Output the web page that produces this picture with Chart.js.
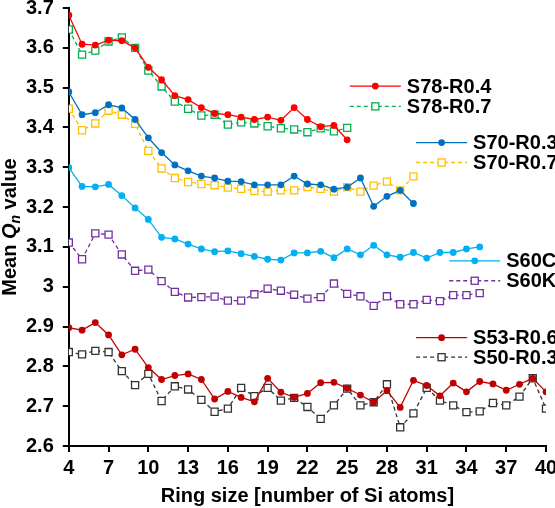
<!DOCTYPE html>
<html>
<head>
<meta charset="utf-8">
<style>
  html, body { margin: 0; padding: 0; background: #fff; }
  #wrap { width: 555px; height: 508px; }
</style>
<script src="https://cdn.jsdelivr.net/npm/chart.js"></script>
</head>
<body>
<div id="wrap"><canvas id="chart" width="555" height="508"></canvas></div>
<script>
  // ring sizes (number of Si atoms)
  const ringSizes = [4,5,6,7,8,9,10,11,12,13,14,15,16,17,18,19,20,21,22,23,24,25,26,27,28,29,30,31,32,33,34,35,36,37,38,39,40];

  const seriesNames = ['S78-R0.4','S78-R0.7','S70-R0.3','S70-R0.7','S60C','S60K','S53-R0.6','S50-R0.3'];

  // mean Qn per ring size, starting at ring size 4
  const s78r04 = [3.682,3.609,3.607,3.619,3.618,3.600,3.551,3.520,3.480,3.470,3.450,3.435,3.432,3.426,3.420,3.426,3.418,3.450,3.420,3.402,3.405,3.369];
  const s78r07 = [3.646,3.583,3.593,3.616,3.626,3.600,3.543,3.503,3.465,3.447,3.430,3.432,3.407,3.413,3.410,3.403,3.398,3.395,3.388,3.398,3.390,3.399];
  const s70r03 = [3.489,3.432,3.437,3.457,3.449,3.420,3.374,3.337,3.306,3.291,3.278,3.273,3.265,3.264,3.256,3.256,3.256,3.278,3.258,3.256,3.245,3.250,3.273,3.202,3.227,3.242,3.209];
  const s70r07 = [3.447,3.393,3.410,3.442,3.432,3.409,3.341,3.297,3.273,3.263,3.258,3.255,3.249,3.246,3.240,3.239,3.242,3.242,3.250,3.246,3.239,3.250,3.239,3.254,3.264,3.242,3.277];
  const s60c = [3.299,3.252,3.251,3.257,3.229,3.198,3.169,3.124,3.120,3.107,3.095,3.088,3.090,3.083,3.076,3.069,3.067,3.085,3.085,3.089,3.073,3.095,3.080,3.104,3.080,3.074,3.086,3.072,3.086,3.086,3.095,3.100];
  const s60k = [3.111,3.069,3.134,3.131,3.081,3.040,3.043,3.014,2.987,2.973,2.974,2.975,2.965,2.965,2.981,2.995,2.990,2.980,2.970,2.974,3.008,2.982,2.976,2.952,2.976,2.956,2.956,2.967,2.964,2.979,2.979,2.984];
  const s53r06 = [2.897,2.891,2.910,2.879,2.829,2.843,2.797,2.767,2.777,2.781,2.767,2.718,2.737,2.722,2.711,2.770,2.735,2.722,2.732,2.759,2.760,2.745,2.728,2.710,2.739,2.697,2.765,2.752,2.726,2.758,2.736,2.762,2.756,2.740,2.755,2.770,2.736];
  const s50r03 = [2.836,2.830,2.839,2.836,2.788,2.753,2.781,2.713,2.750,2.742,2.716,2.686,2.694,2.746,2.725,2.746,2.714,2.721,2.698,2.668,2.702,2.744,2.702,2.710,2.755,2.647,2.682,2.746,2.714,2.702,2.685,2.687,2.708,2.702,2.724,2.770,2.694];

  const xTicks = [4,7,10,13,16,19,22,25,28,31,34,37,40];
  const yTicks = [2.6,2.7,2.8,2.9,3.0,3.1,3.2,3.3,3.4,3.5,3.6,3.7];

  const FONT = "'Liberation Sans', Arial, sans-serif";

  const toPoints = vals => vals.map((v, i) => ({ x: ringSizes[i], y: v }));

  // solid line + dot, or dashed line + open square
  function solid(name, vals, color, legendAt) {
    return {
      label: name, data: toPoints(vals),
      borderColor: color, backgroundColor: color,
      borderWidth: 1.3, pointStyle: 'circle', pointRadius: 3.4,
      pointBorderWidth: 0, pointBackgroundColor: color,
      legendAt: legendAt
    };
  }
  function dashed(name, vals, color, legendAt) {
    return {
      label: name, data: toPoints(vals),
      borderColor: color, backgroundColor: '#fff',
      borderWidth: 1.3, borderDash: [4, 3], pointStyle: 'rect', pointRadius: 5,
      pointBorderWidth: 1.3, pointBackgroundColor: '#fff', pointBorderColor: color,
      legendAt: legendAt
    };
  }

  const datasets = [
    solid(seriesNames[0], s78r04, '#ff0000', { x: 25.2, y: 3.504 }),
    dashed(seriesNames[1], s78r07, '#00b050', { x: 25.2, y: 3.453 }),
    solid(seriesNames[2], s70r03, '#0070c0', { x: 30.2, y: 3.362 }),
    dashed(seriesNames[3], s70r07, '#ffc000', { x: 30.2, y: 3.312 }),
    solid(seriesNames[4], s60c, '#00b0f0', { x: 32.7, y: 3.065 }),
    dashed(seriesNames[5], s60k, '#7030a0', { x: 32.7, y: 3.015 }),
    solid(seriesNames[6], s53r06, '#c00000', { x: 30.2, y: 2.872 }),
    dashed(seriesNames[7], s50r03, '#333333', { x: 30.2, y: 2.823 })
  ];

  // legend entries drawn next to their curves
  const sideLegend = {
    id: 'sideLegend',
    afterDraw(chart) {
      const ctx = chart.ctx;
      const xs = chart.scales.x, ys = chart.scales.y;
      chart.data.datasets.forEach(ds => {
        const x0 = xs.getPixelForValue(ds.legendAt.x);
        const y0 = ys.getPixelForValue(ds.legendAt.y);
        const len = 51;
        ctx.save();
        ctx.strokeStyle = ds.borderColor;
        ctx.lineWidth = ds.borderWidth;
        ctx.setLineDash(ds.borderDash || []);
        ctx.beginPath();
        ctx.moveTo(x0, y0);
        ctx.lineTo(x0 + len, y0);
        ctx.stroke();
        ctx.setLineDash([]);
        const cx = x0 + len / 2;
        if (ds.pointStyle === 'circle') {
          ctx.fillStyle = ds.borderColor;
          ctx.beginPath();
          ctx.arc(cx, y0, ds.pointRadius, 0, Math.PI * 2);
          ctx.fill();
        } else {
          const h = ds.pointRadius * Math.SQRT1_2;
          ctx.fillStyle = '#fff';
          ctx.lineWidth = ds.pointBorderWidth;
          ctx.strokeStyle = ds.pointBorderColor;
          ctx.fillRect(cx - h, y0 - h, 2 * h, 2 * h);
          ctx.strokeRect(cx - h, y0 - h, 2 * h, 2 * h);
        }
        ctx.fillStyle = '#000';
        ctx.font = 'bold 20px ' + FONT;
        ctx.textBaseline = 'middle';
        ctx.textAlign = 'left';
        ctx.fillText(ds.label, x0 + len + 6, y0 + 1);
        ctx.restore();
      });
    }
  };

  // y title with italic Q and subscript n
  const yTitle = {
    id: 'yTitle',
    afterDraw(chart) {
      const ctx = chart.ctx;
      const area = chart.chartArea;
      const parts = [
        { t: 'Mean ', f: 'bold 20px ' + FONT, dy: 0 },
        { t: 'Q', f: 'italic bold 20px ' + FONT, dy: 0 },
        { t: 'n', f: 'italic bold 14px ' + FONT, dy: 4 },
        { t: ' value', f: 'bold 20px ' + FONT, dy: 0 }
      ];
      ctx.save();
      let total = 0;
      parts.forEach(p => { ctx.font = p.f; p.w = ctx.measureText(p.t).width; total += p.w; });
      ctx.translate(16, (area.top + area.bottom) / 2);
      ctx.rotate(-Math.PI / 2);
      ctx.fillStyle = '#000';
      ctx.textBaseline = 'alphabetic';
      let x = -total / 2;
      parts.forEach(p => {
        ctx.font = p.f;
        ctx.fillText(p.t, x, p.dy);
        x += p.w;
      });
      ctx.restore();
    }
  };

  const ctx = document.getElementById('chart').getContext('2d');
  new Chart(ctx, {
    type: 'line',
    data: { datasets: datasets },
    plugins: [sideLegend, yTitle],
    options: {
      responsive: false,
      animation: false,
      layout: { padding: { top: 8, right: 9, left: 17, bottom: 0 } },
      plugins: { legend: { display: false }, tooltip: { enabled: false } },
      scales: {
        x: {
          type: 'linear', min: 4, max: 40,
          afterBuildTicks: s => { s.ticks = xTicks.map(v => ({ value: v })); },
          afterFit: s => { s.paddingLeft = 0; s.paddingRight = 0; },
          ticks: { color: '#000', padding: 4, font: { family: FONT, size: 20, weight: 'bold' }, maxRotation: 0 },
          grid: { drawOnChartArea: false, color: '#000', lineWidth: 2, tickLength: 6 },
          border: { color: '#000', width: 2 },
          title: { display: true, text: 'Ring size [number of Si atoms]', color: '#000',
                   font: { family: FONT, size: 20, weight: 'bold' }, padding: { top: 0, bottom: 0 } }
        },
        y: {
          type: 'linear', min: 2.6, max: 3.7,
          afterBuildTicks: s => { s.ticks = yTicks.map(v => ({ value: v })); },
          afterFit: s => { s.paddingTop = 0; s.paddingBottom = 0; },
          ticks: { color: '#000', padding: 9, font: { family: FONT, size: 20, weight: 'bold' },
                   callback: v => String(Number(v.toFixed(1))) },
          grid: { drawOnChartArea: false, color: '#000', lineWidth: 2, tickLength: 6 },
          border: { color: '#000', width: 2 }
        }
      }
    }
  });
</script>
</body>
</html>
